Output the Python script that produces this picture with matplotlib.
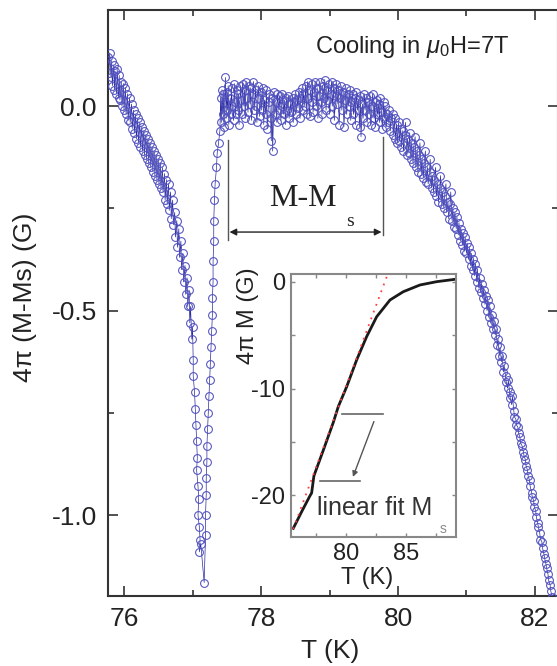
import numpy as np
import matplotlib
matplotlib.use('Agg')
import matplotlib.pyplot as plt
from matplotlib.ticker import MultipleLocator, FormatStrFormatter

plt.rcParams['font.family'] = ['Liberation Sans', 'DejaVu Sans']
plt.rcParams['axes.unicode_minus'] = False
plt.rcParams['mathtext.fontset'] = 'custom'
plt.rcParams['mathtext.rm'] = 'Liberation Sans'
plt.rcParams['mathtext.it'] = 'Liberation Sans:italic'

left_branch = [
    (75.77, 0.12), (75.78, 0.08), (75.79, 0.13), (75.81, 0.07), (75.82, 0.11),
    (75.83, 0.05), (75.85, 0.10), (75.86, 0.04), (75.87, 0.085), (75.89, 0.03),
    (75.90, 0.09), (75.92, 0.02), (75.93, 0.075), (75.94, 0.015), (75.96, 0.06),
    (75.97, 0.00), (75.99, 0.055), (76.00, -0.01), (76.02, 0.045), (76.03, -0.02),
    (76.05, 0.03), (76.06, -0.035), (76.08, 0.02), (76.09, -0.04), (76.11, 0.005),
    (76.12, -0.055), (76.14, -0.01), (76.15, -0.065), (76.17, -0.02), (76.18, -0.08),
    (76.20, -0.03), (76.21, -0.09), (76.23, -0.04), (76.24, -0.10), (76.26, -0.05),
    (76.27, -0.11), (76.29, -0.06), (76.30, -0.12), (76.32, -0.07), (76.33, -0.13),
    (76.35, -0.08), (76.36, -0.14), (76.38, -0.09), (76.39, -0.15), (76.41, -0.10),
    (76.42, -0.16), (76.44, -0.11), (76.45, -0.17), (76.47, -0.12), (76.48, -0.18),
    (76.50, -0.13), (76.51, -0.19), (76.53, -0.14), (76.54, -0.20), (76.56, -0.15),
    (76.57, -0.21), (76.59, -0.165), (76.60, -0.23), (76.62, -0.18), (76.63, -0.24),
    (76.65, -0.19), (76.66, -0.255), (76.68, -0.21), (76.69, -0.275), (76.71, -0.23),
    (76.72, -0.29), (76.74, -0.26), (76.75, -0.32), (76.77, -0.28), (76.78, -0.345),
    (76.80, -0.30), (76.81, -0.37), (76.83, -0.33), (76.84, -0.40), (76.86, -0.36),
    (76.87, -0.43), (76.89, -0.39), (76.90, -0.46), (76.92, -0.42), (76.93, -0.49),
    (76.95, -0.45), (76.96, -0.53), (76.97, -0.49), (76.99, -0.57), (77.00, -0.54),
    (77.01, -0.62), (77.01, -0.66), (77.03, -0.70), (77.04, -0.74), (77.05, -0.78),
    (77.06, -0.82), (77.07, -0.86), (77.06, -0.89), (77.08, -0.93), (77.09, -0.96),
    (77.08, -1.00), (77.10, -1.03), (77.11, -1.06), (77.10, -1.09), (77.12, -1.07),
]

rise_branch = [
    (77.17, -1.165), (77.19, -1.05), (77.19, -1.00), (77.20, -0.95), (77.20, -0.91),
    (77.21, -0.87), (77.21, -0.83), (77.22, -0.79), (77.23, -0.75), (77.24, -0.71),
    (77.25, -0.67), (77.26, -0.63), (77.27, -0.59), (77.28, -0.55), (77.29, -0.51),
    (77.29, -0.47), (77.30, -0.43), (77.30, -0.38), (77.31, -0.33), (77.31, -0.28),
    (77.32, -0.23), (77.33, -0.19), (77.35, -0.15), (77.36, -0.115), (77.38, -0.09),
]

plateau = [
    (77.40, -0.06), (77.41, 0.02), (77.42, -0.04), (77.43, 0.04), (77.44, -0.02),
    (77.45, 0.03), (77.46, -0.05), (77.47, 0.01), (77.48, 0.07), (77.49, -0.03),
    (77.50, 0.035), (77.51, -0.01), (77.52, 0.05), (77.53, -0.045), (77.55, 0.02),
    (77.56, -0.02), (77.57, 0.045), (77.58, 0.00), (77.60, -0.035), (77.61, 0.055),
    (77.62, 0.01), (77.63, -0.02), (77.65, 0.04), (77.66, -0.01), (77.67, 0.03),
    (77.68, -0.045), (77.70, 0.05), (77.71, 0.015), (77.72, -0.02), (77.73, 0.055),
    (77.75, 0.00), (77.76, 0.04), (77.77, -0.03), (77.78, 0.06), (77.80, 0.02),
    (77.81, -0.015), (77.82, 0.05), (77.84, 0.005), (77.85, 0.045), (77.86, -0.035),
    (77.88, 0.03), (77.89, 0.06), (77.90, -0.01), (77.92, 0.04), (77.93, 0.00),
    (77.94, -0.04), (77.96, 0.05), (77.97, 0.02), (77.98, -0.025), (78.00, 0.035),
    (78.01, -0.01), (78.03, 0.045), (78.04, -0.045), (78.05, 0.015), (78.07, -0.02),
    (78.08, 0.04), (78.09, -0.055), (78.11, 0.01), (78.12, 0.03), (78.14, -0.03),
    (78.15, -0.085), (78.16, 0.02), (78.17, -0.11), (78.19, 0.035), (78.20, -0.02),
    (78.22, 0.01), (78.23, -0.04), (78.24, 0.03), (78.26, -0.01), (78.27, 0.025),
    (78.29, -0.035), (78.30, 0.00), (78.31, 0.03), (78.33, -0.02), (78.34, 0.015),
    (78.36, -0.045), (78.37, 0.02), (78.38, -0.01), (78.40, 0.025), (78.41, -0.03),
    (78.43, 0.005), (78.44, -0.015), (78.46, 0.02), (78.47, -0.04), (78.48, 0.01),
    (78.50, 0.03), (78.51, -0.02), (78.53, 0.015), (78.54, -0.005), (78.55, 0.035),
    (78.57, -0.03), (78.58, 0.02), (78.60, 0.045), (78.61, -0.01), (78.62, 0.03),
    (78.64, 0.00), (78.65, 0.05), (78.67, -0.02), (78.68, 0.06), (78.69, 0.02),
    (78.71, -0.025), (78.72, 0.04), (78.74, 0.01), (78.75, 0.055), (78.76, -0.015),
    (78.78, 0.035), (78.79, 0.06), (78.81, 0.00), (78.82, 0.045), (78.83, -0.03),
    (78.85, 0.025), (78.86, 0.06), (78.88, 0.01), (78.89, -0.02), (78.90, 0.05),
    (78.92, 0.02), (78.93, 0.065), (78.95, -0.01), (78.96, 0.04), (78.97, 0.015),
    (78.99, 0.055), (79.00, -0.02), (79.02, 0.03), (79.03, 0.06), (79.04, 0.00),
    (79.06, 0.045), (79.07, -0.035), (79.09, 0.025), (79.10, 0.055), (79.11, 0.005),
    (79.13, 0.04), (79.14, -0.045), (79.16, 0.02), (79.17, 0.05), (79.18, -0.01),
    (79.20, 0.035), (79.21, -0.05), (79.23, 0.015), (79.24, 0.045), (79.25, -0.02),
    (79.27, 0.03), (79.28, 0.00), (79.30, 0.04), (79.31, -0.035), (79.32, 0.01),
    (79.34, 0.03), (79.35, -0.02), (79.37, 0.02), (79.38, -0.045), (79.39, 0.035),
    (79.41, -0.01), (79.42, 0.015), (79.44, -0.05), (79.45, 0.025), (79.46, -0.075),
    (79.48, 0.005), (79.49, -0.03), (79.51, 0.03), (79.52, -0.01), (79.53, 0.02),
    (79.55, -0.04), (79.56, 0.01), (79.58, -0.02), (79.59, 0.025), (79.60, -0.045),
    (79.62, 0.00), (79.63, 0.03), (79.65, -0.03), (79.66, 0.01), (79.67, -0.05),
    (79.69, 0.015), (79.70, -0.02), (79.72, 0.005), (79.73, -0.04), (79.74, 0.02),
    (79.76, -0.015), (79.77, -0.055), (79.79, 0.01), (79.80, -0.03), (79.81, 0.00),
    (79.83, -0.05), (79.84, -0.02), (79.86, -0.04), (79.87, -0.01), (79.89, -0.06),
    (79.90, -0.03),
]

fall_branch = [
    (79.92, -0.02), (79.93, -0.07), (79.95, -0.03), (79.96, -0.08), (79.98, -0.045),
    (79.99, -0.09), (80.01, -0.04), (80.02, -0.085), (80.04, -0.055), (80.05, -0.10),
    (80.07, -0.06), (80.08, -0.11), (80.10, -0.07), (80.11, -0.04), (80.13, -0.12),
    (80.14, -0.08), (80.16, -0.115), (80.17, -0.065), (80.19, -0.13), (80.20, -0.09),
    (80.22, -0.14), (80.23, -0.10), (80.25, -0.075), (80.26, -0.15), (80.28, -0.11),
    (80.29, -0.16), (80.31, -0.12), (80.32, -0.09), (80.34, -0.165), (80.35, -0.13),
    (80.37, -0.175), (80.38, -0.14), (80.40, -0.11), (80.41, -0.185), (80.43, -0.15),
    (80.44, -0.19), (80.46, -0.16), (80.47, -0.13), (80.49, -0.20), (80.50, -0.17),
    (80.52, -0.21), (80.53, -0.18), (80.55, -0.15), (80.56, -0.22), (80.58, -0.19),
    (80.59, -0.235), (80.61, -0.20), (80.62, -0.17), (80.64, -0.24), (80.65, -0.21),
    (80.67, -0.25), (80.68, -0.22), (80.70, -0.19), (80.71, -0.26), (80.73, -0.235),
    (80.74, -0.275), (80.76, -0.24), (80.77, -0.21), (80.79, -0.28), (80.80, -0.25),
    (80.82, -0.295), (80.83, -0.26), (80.85, -0.30), (80.86, -0.27), (80.88, -0.315),
    (80.89, -0.285), (80.91, -0.33), (80.92, -0.30), (80.94, -0.34), (80.95, -0.31),
    (80.97, -0.355), (80.98, -0.32), (81.00, -0.36), (81.01, -0.335), (81.03, -0.375),
    (81.04, -0.345), (81.06, -0.39), (81.07, -0.36), (81.09, -0.40), (81.10, -0.375),
    (81.12, -0.415), (81.13, -0.385), (81.15, -0.43), (81.16, -0.40), (81.18, -0.445),
    (81.19, -0.42), (81.21, -0.455), (81.22, -0.435), (81.24, -0.47), (81.25, -0.45),
    (81.27, -0.485), (81.28, -0.465), (81.30, -0.50), (81.31, -0.475), (81.33, -0.515),
    (81.34, -0.49), (81.36, -0.53), (81.37, -0.51), (81.39, -0.545), (81.40, -0.525),
    (81.42, -0.56), (81.43, -0.545), (81.45, -0.585), (81.46, -0.57), (81.48, -0.61),
    (81.49, -0.59), (81.51, -0.625), (81.52, -0.61), (81.54, -0.65), (81.55, -0.635),
    (81.57, -0.66), (81.58, -0.675), (81.60, -0.69), (81.61, -0.67), (81.63, -0.70),
    (81.64, -0.715), (81.66, -0.73), (81.67, -0.71), (81.69, -0.745), (81.70, -0.76),
    (81.72, -0.765), (81.73, -0.78), (81.75, -0.785), (81.76, -0.80), (81.78, -0.81),
    (81.79, -0.825), (81.81, -0.83), (81.83, -0.845), (81.84, -0.855), (81.86, -0.865),
    (81.87, -0.88), (81.89, -0.89), (81.90, -0.905), (81.92, -0.915), (81.93, -0.93),
    (81.95, -0.945), (81.96, -0.955), (81.98, -0.965), (81.99, -0.98), (82.01, -0.99),
    (82.02, -1.005), (82.04, -1.02), (82.05, -1.03), (82.07, -1.045), (82.08, -1.06),
    (82.10, -1.065), (82.11, -1.08), (82.13, -1.095), (82.14, -1.105), (82.16, -1.12),
    (82.17, -1.13), (82.19, -1.145), (82.20, -1.16), (82.22, -1.17), (82.23, -1.185),
    (82.25, -1.20), (82.27, -1.215),
]

# inset: magnetisation curve and its linear fit
inset_T = [75.61, 76.31, 76.94, 77.14, 77.33, 78.11, 78.94, 79.36, 80.06, 80.89,
           81.72, 82.56, 83.67, 84.78, 86.17, 87.56, 89.08]
inset_M = [-23.13, -21.56, -20.2, -19.8, -18.2, -15.8, -13.2, -11.7, -9.83, -7.32,
           -5.14, -3.26, -1.69, -0.91, -0.28, 0.03, 0.25]
fit_T = [75.6, 83.4]
fit_M = [-23.2, 0.5]

W, H = 557, 666


def box(l, t, r, b):
    # pixel box -> figure fraction rect
    return [l / W, 1 - b / H, (r - l) / W, (b - t) / H]


fig = plt.figure(figsize=(W / 100, H / 100), dpi=100)
ax = fig.add_axes(box(108, 10, 558, 596))

data = np.array(left_branch + rise_branch + plateau + fall_branch)
ax.plot(data[:, 0], data[:, 1], '-', color='#2a2aa0', lw=0.5, zorder=2)
ax.plot(data[:, 0], data[:, 1], 'o', mfc='none', mec='#5050c0', ms=5.6, mew=0.75, zorder=3)

ax.set_xlim(75.766, 82.336)
ax.set_ylim(-1.198, 0.235)
ax.xaxis.set_major_locator(MultipleLocator(2))
ax.xaxis.set_minor_locator(MultipleLocator(1))
ax.yaxis.set_major_locator(MultipleLocator(0.5))
ax.yaxis.set_minor_locator(MultipleLocator(0.25))
ax.yaxis.set_major_formatter(FormatStrFormatter('%.1f'))
ax.tick_params(which='both', direction='in', top=True, right=True,
               width=1.2, color='#333333', labelcolor='#222222')
ax.tick_params(which='major', length=7, labelsize=19, pad=8)
ax.tick_params(which='minor', length=4)
for s in ax.spines.values():
    s.set_linewidth(1.5)
    s.set_color('#333333')

fig.text(25 / W, 1 - 297 / H, '4π (M-Ms) (G)', rotation=90, ha='center', va='center',
         fontsize=19, color='#222222')
fig.text(330 / W, 1 - 651 / H, 'T (K)', ha='center', va='center', fontsize=19, color='#222222')
fig.text(315 / W, 1 - 47 / H, r'Cooling in $\mu_0$H=7T', ha='left', va='center',
         fontsize=17, color='#222222')

# M - Ms bracket
ax.plot([77.52, 77.52], [-0.083, -0.328], color='#555555', lw=1.0)
ax.plot([79.78, 79.78], [-0.076, -0.315], color='#555555', lw=1.0)
ax.annotate('', xy=(77.54, -0.308), xytext=(79.76, -0.308),
            arrowprops=dict(arrowstyle='<|-|>', color='#222222', lw=1.0,
                            mutation_scale=10, shrinkA=0, shrinkB=0))
fig.text(269 / W, 1 - 198 / H, 'M-M', family='Liberation Serif', fontsize=23,
         ha='left', va='center', color='#222222')
fig.text(346 / W, 1 - 222 / H, 's', family='Liberation Serif', fontsize=14,
         ha='left', va='center', color='#222222')

# inset
axi = fig.add_axes(box(291, 274, 456, 537))
axi.plot(inset_T, inset_M, color='#1a1a1a', lw=2.0, zorder=2)
axi.plot(fit_T, fit_M, color='#ff4040', lw=1.3, ls=(0, (1, 3)), zorder=3)
axi.set_xlim(75.42, 89.17)
axi.set_ylim(-23.94, 0.75)
axi.xaxis.set_major_locator(MultipleLocator(5))
axi.xaxis.set_minor_locator(MultipleLocator(2.5))
axi.yaxis.set_major_locator(MultipleLocator(10))
axi.yaxis.set_minor_locator(MultipleLocator(5))
axi.tick_params(which='both', direction='in', top=True, right=True, length=3,
                width=1.0, color='#888888', labelcolor='#222222')
axi.tick_params(which='major', labelsize=17, pad=4)
for s in axi.spines.values():
    s.set_linewidth(1.5)
    s.set_color('#888888')

axi.plot([79.67, 83.08], [-12.4, -12.4], color='#666666', lw=1.2)
axi.plot([77.83, 81.17], [-18.7, -18.7], color='#666666', lw=1.2)
axi.annotate('', xy=(80.58, -18.3), xytext=(82.33, -13.1),
             arrowprops=dict(arrowstyle='-|>', color='#555555', lw=1.0,
                             mutation_scale=8, shrinkA=0, shrinkB=0))
axi.text(77.58, -21.2, 'linear fit M', fontsize=18, ha='left', va='center', color='#333333')
axi.text(87.8, -23.2, 's', fontsize=10, ha='left', va='center', color='#888888')

fig.text(248 / W, 1 - 316 / H, '4π M (G)', rotation=90, ha='center', va='center',
         fontsize=17, color='#222222')
fig.text(367 / W, 1 - 578 / H, 'T (K)', ha='center', va='center', fontsize=17, color='#222222')

fig.savefig('out.png', dpi=100)
